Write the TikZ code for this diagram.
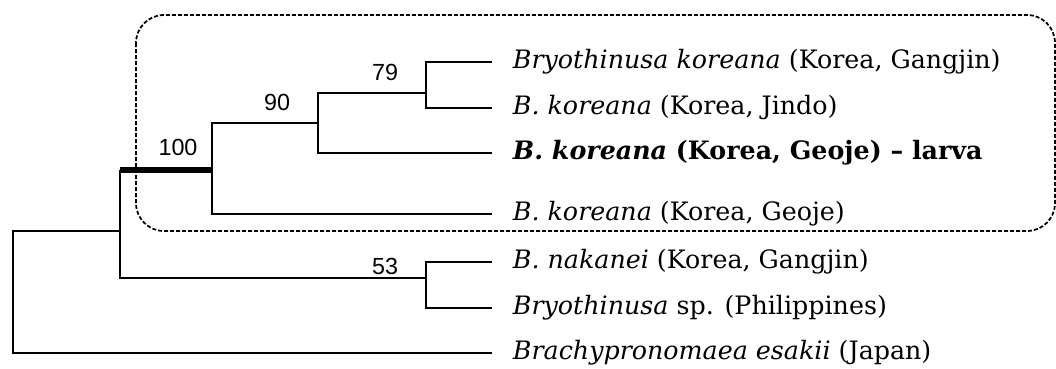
\documentclass[tikz,border=0pt]{standalone}
\usepackage{fontspec}
\setmainfont{DejaVu Serif}
\newfontfamily\numfont{Liberation Sans}
\begin{document}
\begin{tikzpicture}[x=0.75pt,y=-0.75pt,
  branch/.style={line width=1.9pt,line join=miter},
  support/.style={line width=4pt},
  leaf/.style={anchor=west,inner xsep=15.5pt,inner ysep=0pt,font=\fontsize{19}{22}\selectfont},
  boot/.style={font=\numfont\fontsize{17.5}{20}\selectfont,inner sep=0pt},
  cladebox/.style={line width=1.3pt,dash pattern=on 3pt off 1.5pt,rounded corners=21pt}]
\useasboundingbox (0,0) rectangle (1056,368);
% dashed clade box
\draw[cladebox] (136,15) rectangle (1055,231);
% leaves
\node[leaf] (l1) at (492,62) {\textit{Bryothinusa koreana} (Korea, Gangjin)};
\node[leaf] (l2) at (492,108) {\textit{B. koreana} (Korea, Jindo)};
\node[leaf] (l3) at (492,153) {\textbf{\textit{B. koreana} (Korea, Geoje) – larva}};
\node[leaf] (l4) at (492,214) {\textit{B. koreana} (Korea, Geoje)};
\node[leaf] (l5) at (492,262) {\textit{B. nakanei} (Korea, Gangjin)};
\node[leaf] (l6) at (492,308) {\textit{Bryothinusa} sp. (Philippines)};
\node[leaf] (l7) at (492,353) {\textit{Brachypronomaea esakii} (Japan)};
% internal nodes
\coordinate (R) at (13,292);
\coordinate (A) at (120,231);
\coordinate (N100) at (212,170);
\coordinate (N90) at (318,123);
\coordinate (N79) at (426,93);
\coordinate (N53) at (426,278);
% branches
\draw[branch] (A) -- (A -| R) -- (l7.west -| R) -- (l7.west);
\draw[support] (N100 -| A) -- (N100);
\draw[branch] (N100 -| A) -- (N53 -| A) -- (N53);
\draw[branch] (N90) -- (N90 -| N100) -- (l4.west -| N100) -- (l4.west);
\draw[branch] (N79) -- (N79 -| N90) -- (l3.west -| N90) -- (l3.west);
\draw[branch] (l1.west) -- (l1.west -| N79) -- (l2.west -| N79) -- (l2.west);
\draw[branch] (l5.west) -- (l5.west -| N53) -- (l6.west -| N53) -- (l6.west);
% bootstrap values
\node[boot] (b100) at (178,147) {100};
\node[boot] (b90) at (277,102) {90};
\node[boot] (b79) at (385,72) {79};
\node[boot] (b53) at (385,266) {53};
\end{tikzpicture}
\end{document}
